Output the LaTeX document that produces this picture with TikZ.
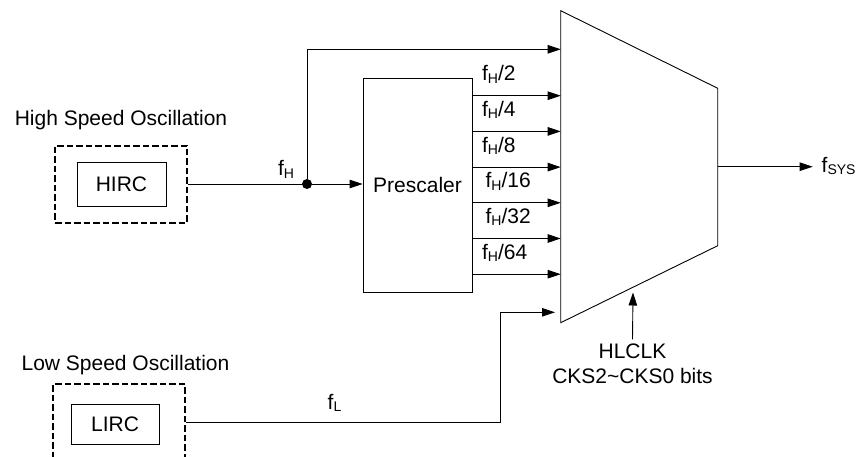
\documentclass[tikz,border=0pt]{standalone}
\usepackage{fontspec}
\setmainfont{Liberation Sans}
\usepackage{tikz}
\usetikzlibrary{arrows.meta, positioning}
\newcommand{\subtxt}[1]{\raisebox{-2.5pt}{\fontsize{14}{14}\selectfont #1}}
\tikzset{
  blk/.style={draw, line width=0.9pt, inner sep=0pt, align=center},
  oscbox/.style={draw, dash pattern=on 6.5pt off 3pt, line width=1.4pt},
  wire/.style={line width=0.9pt},
  arr/.style={line width=0.9pt, -{Triangle[length=13pt,width=8.5pt]}},
  lbl/.style={inner sep=0pt}
}

\begin{document}
\begin{tikzpicture}[x=1pt, y=-1pt, font=\fontsize{21}{26}\selectfont]
			\useasboundingbox (0,0) rectangle (863,457);
			\clip (0,0) rectangle (863,457);
			
			% oscillators
			\node[lbl, anchor=base] (hsl) at (121,126) {High Speed Oscillation};
			\node[oscbox, minimum width=132pt, minimum height=77pt] (hosc) at (121,184.5) {};
			\node[blk, minimum width=89pt, minimum height=44pt] (hirc) at (121.5,184) {HIRC};
			
			\node[lbl, anchor=base] (lsl) at (125.5,370.7) {Low Speed Oscillation};
			\node[oscbox, minimum width=132pt, minimum height=77pt] (losc) at (119,422.5) {};
			\node[blk, minimum width=88pt, minimum height=40pt] (lirc) at (115,424) {LIRC};
			
			\node[circle, fill, inner sep=0pt, minimum size=10pt] (dot) at (307,184) {};
			\node[blk, minimum width=109pt, minimum height=214pt] (pre) at (417.5,185) {Prescaler};
			
			% multiplexer
			\draw[wire] (560.7,10.7) -- (717.7,88.3) -- (717.7,245.7) -- (560.7,322.7) -- cycle;
			\coordinate (muxin1) at (560.7,49.3);
			\foreach \i in {2,...,7}
				\coordinate (muxin\i) at (560.7,{95.7+35.7*(\i-2)});
			\coordinate (muxin8) at (555,312.3);
			\coordinate (lbend) at (500.7,312.3);
			\coordinate (muxout) at (717.7,166.7);
			\coordinate (sysend) at (812.7,166.7);
			\coordinate (muxsel) at (633,292.5);
			
			% labels
			\node[lbl, anchor=base] (fh) at (286,176) {f\subtxt{H}};
			\node[lbl, anchor=base] (fl) at (334.5,409) {f\subtxt{L}};
			\node[lbl, anchor=base west] (fsys) at (821.5,172.5) {f\subtxt{SYS}};
			\node[lbl, anchor=base] (sel) at (632.5,358.3) {HLCLK};
			\node[lbl, anchor=base] (selbits) at (632.5,384) {CKS2\textasciitilde CKS0 bits};
			
			% connections
			\draw[wire] (hosc.east |- dot) -- (dot);
			\draw[arr] (dot) -- (pre.west |- dot);
			\draw[arr] (dot) |- (muxin1);
			\foreach \i/\d/\dx in {2/2/0, 3/4/0, 4/8/0, 5/16/3.5, 6/32/3.5, 7/64/0} {
				\coordinate (po\i) at (pre.east |- muxin\i);
				\draw[arr] (po\i) -- (muxin\i);
				\node[lbl, anchor=base west] (div\d) at ([xshift={(9.5+\dx)*1pt}, yshift=15pt]po\i) {f\subtxt{H}/\d};
			}
			\draw[arr] (losc.east) -| (lbend) -- (muxin8);
			\draw[arr] (muxout) -- (sysend);
			\draw[arr] ([yshift=4pt]sel.north) -- (muxsel);
			
\end{tikzpicture}
\end{document}
